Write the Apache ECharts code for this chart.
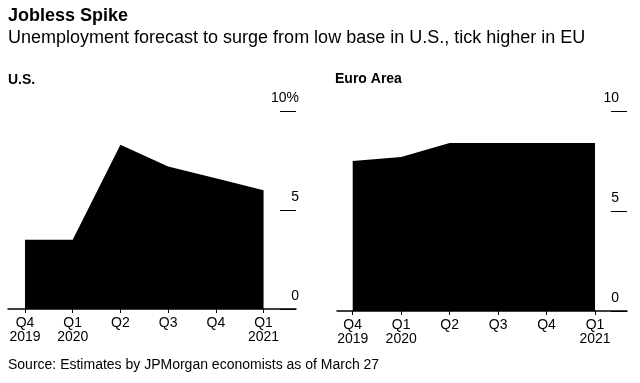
<!DOCTYPE html>
<html><head><meta charset="utf-8">
<script src="https://cdn.jsdelivr.net/npm/echarts@6/dist/echarts.min.js"></script>
<style>html,body{margin:0;padding:0;background:#fff}#c{width:640px;height:383px}</style>
</head><body><div id="c"></div>
<script>
var quarters = ['Q4\n2019','Q1\n2020','Q2','Q3','Q4','Q1\n2021'];
var usValues = [3.5, 3.5, 8.3, 7.2, 6.6, 6.0];
var euValues = [7.5, 7.7, 8.4, 8.4, 8.4, 8.4];
var usTickLabels = {0:'0', 5:'5', 10:'10%'};
var euTickLabels = {0:'0', 5:'5', 10:'10'};
var titleText = 'Jobless Spike';
var subtitleText = 'Unemployment forecast to surge from low base in U.S., tick higher in EU';
var panelTitles = ['U.S.', 'Euro Area'];
var sourceText = 'Source: Estimates by JPMorgan economists as of March 27';

var FONT = '"Liberation Sans", Arial, Helvetica, sans-serif';
function pts(vals){ return vals.map(function(v,i){ return [i, v]; }); }
function xAxisFor(gi, min, max){
  return {
    type:'value', gridIndex:gi, min:min, max:max,
    axisLine:{show:true, onZero:false, lineStyle:{color:'#000', width:1.5}},
    axisTick:{show:true, customValues:[0,1,2,3,4,5], length:4, lineStyle:{color:'#000', width:1}},
    axisLabel:{customValues:[0,1,2,3,4,5], formatter:function(v){ return quarters[Math.round(v)]; },
      color:'#000', fontFamily:FONT, fontSize:14, lineHeight:14, margin:7, align:'center'},
    splitLine:{show:false}
  };
}
function yAxisFor(gi, labels, margin){
  return {
    type:'value', gridIndex:gi, position:'right', min:0, max:10, interval:5,
    axisLine:{show:false, onZero:false},
    axisTick:{show:true, inside:true, length:16, lineStyle:{color:'#000', width:1}},
    axisLabel:{inside:true, margin:margin, verticalAlign:'bottom', align:'right',
      formatter:function(v){ return labels[v]; }, color:'#000', fontFamily:FONT, fontSize:14, padding:[0,0,6,0]},
    splitLine:{show:false}
  };
}
function t(text, left, top, size, bold){
  return {text:text, left:left, top:top, padding:0,
    textStyle:{fontFamily:FONT, fontWeight:bold?'bold':'normal', fontSize:size, color:'#000'}};
}
var chart = echarts.init(document.getElementById('c'), null, {renderer:'canvas'});
chart.setOption({
  backgroundColor:'#fff',
  animation:false,
  title:[
    t(titleText, 8, 7, 18, true),
    t(subtitleText, 8, 29, 18, false),
    t(panelTitles[0], 8, 73, 14, true),
    t(panelTitles[1], 335, 72, 14, true),
    t(sourceText, 8, 358, 14, false)
  ],
  grid:[
    {left:8, right:344, top:111, bottom:74},
    {left:337, right:13, top:111, bottom:72}
  ],
  xAxis:[ xAxisFor(0, -0.356, 5.68), xAxisFor(1, -0.324, 5.66) ],
  yAxis:[ yAxisFor(0, usTickLabels, -3), yAxisFor(1, euTickLabels, 8) ],
  series:[
    {type:'line', xAxisIndex:0, yAxisIndex:0, data:pts(usValues), symbol:'none',
      lineStyle:{width:0}, areaStyle:{color:'#000', opacity:1}},
    {type:'line', xAxisIndex:1, yAxisIndex:1, data:pts(euValues), symbol:'none',
      lineStyle:{width:0}, areaStyle:{color:'#000', opacity:1}}
  ]
});
</script></body></html>
